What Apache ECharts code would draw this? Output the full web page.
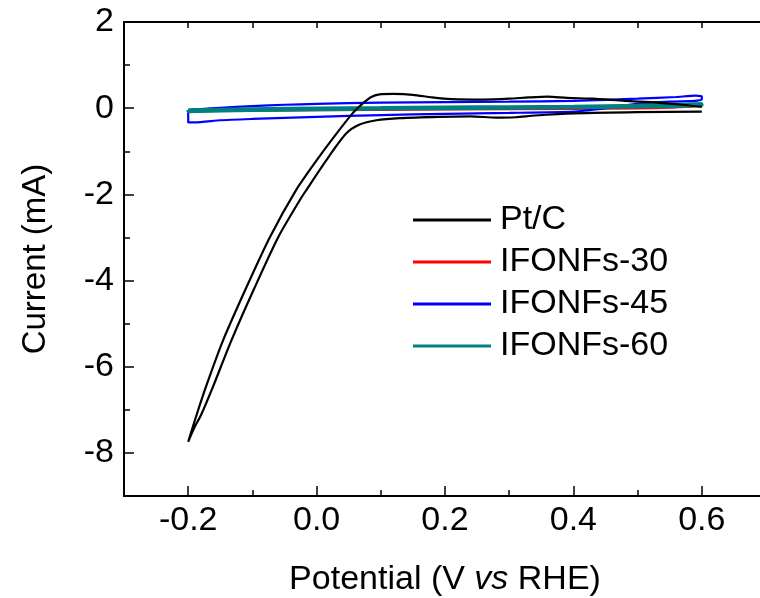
<!DOCTYPE html>
<html>
<head>
<meta charset="utf-8">
<script src="https://cdn.jsdelivr.net/npm/echarts@6/dist/echarts.min.js"></script>
<style>
html,body{margin:0;padding:0;background:#fff;}
#chart{width:760px;height:598px;}
</style>
</head>
<body>
<div id="chart"></div>
<script>
// ---- data ----
var seriesNames = ['Pt/C', 'IFONFs-30', 'IFONFs-45', 'IFONFs-60'];
var seriesColors = ['#000000', '#ff0000', '#0000ff', '#008080'];

var ptcX = [0.600, 0.570, 0.530, 0.480, 0.430, 0.390, 0.360, 0.330, 0.300, 0.260, 0.210, 0.180, 0.150, 0.120, 0.098, 0.085, 0.072, 0.056, 0.031, 0.000, -0.032, -0.073, -0.110, -0.146, -0.172, -0.187, -0.200,
            -0.190, -0.180, -0.161, -0.133, -0.097, -0.060, -0.026, -0.016, 0.015, 0.046, 0.067, 0.093, 0.130, 0.190, 0.240, 0.280, 0.310, 0.340, 0.400, 0.500, 0.600];
var ptcY = [0.03, 0.08, 0.13, 0.17, 0.22, 0.24, 0.27, 0.25, 0.22, 0.20, 0.21, 0.25, 0.31, 0.33, 0.32, 0.26, 0.11, -0.12, -0.59, -1.21, -1.90, -3.00, -4.18, -5.40, -6.45, -7.12, -7.74,
            -7.40, -7.12, -6.45, -5.40, -4.18, -3.00, -2.13, -1.90, -1.21, -0.59, -0.38, -0.28, -0.23, -0.20, -0.19, -0.22, -0.21, -0.17, -0.12, -0.09, -0.08];

var ifo30X = [-0.200, -0.100, 0.000, 0.100, 0.200, 0.300, 0.400, 0.500, 0.600, 0.600, 0.550, 0.500, 0.400, 0.200, 0.000, -0.200, -0.200];
var ifo30Y = [-0.05, -0.03, -0.01, 0.00, 0.01, 0.02, 0.03, 0.05, 0.07, 0.05, 0.01, -0.01, -0.02, -0.03, -0.05, -0.07, -0.05];

var ifo45X = [-0.200, -0.195, -0.180, -0.150, -0.100, -0.050, 0.000, 0.100, 0.200, 0.300, 0.400, 0.500, 0.560, 0.590, 0.600, 0.600, 0.590, 0.550, 0.500, 0.450, 0.400, 0.300, 0.200, 0.100, 0.000, -0.100, -0.150, -0.190, -0.200, -0.200];
var ifo45Y = [-0.08, -0.03, -0.02, 0.01, 0.05, 0.08, 0.10, 0.13, 0.14, 0.15, 0.17, 0.22, 0.26, 0.29, 0.27, 0.20, 0.17, 0.15, 0.10, 0.00, -0.08, -0.11, -0.13, -0.16, -0.20, -0.25, -0.28, -0.33, -0.33, -0.08];

var ifo60X = [-0.200, -0.100, 0.000, 0.100, 0.200, 0.300, 0.400, 0.500, 0.600, 0.600, 0.500, 0.400, 0.300, 0.200, 0.100, 0.000, -0.100, -0.200, -0.200];
var ifo60Y = [-0.045, -0.020, 0.000, 0.010, 0.020, 0.030, 0.040, 0.060, 0.100, 0.070, 0.035, 0.015, 0.005, -0.005, -0.015, -0.030, -0.050, -0.075, -0.045];

var xMajorTicks = [-0.2, 0.0, 0.2, 0.4, 0.6];
var xMinorTicks = [-0.1, 0.1, 0.3, 0.5];
var xTopTicks = [-0.2, -0.1, 0.0, 0.1, 0.2, 0.3, 0.4, 0.5, 0.6];
var yMajorTicks = [-8, -6, -4, -2, 0, 2];
var yMinorTicks = [-9, -7, -5, -3, -1, 1];

function pairs(xs, ys) {
  var out = [];
  for (var i = 0; i < xs.length; i++) out.push([xs[i], ys[i]]);
  return out;
}

var FONT = 'Liberation Sans, Arial, Helvetica, sans-serif';
var chart = echarts.init(document.getElementById('chart'), null, {renderer: 'canvas'});

var xCommon = {type: 'value', min: -0.3, max: 0.7, splitLine: {show: false}};
var yCommon = {type: 'value', min: -9, max: 2, splitLine: {show: false}};

var option = {
  backgroundColor: '#ffffff',
  animation: false,
  grid: {left: 124, top: 22, width: 642, height: 474, containLabel: false, outerBoundsMode: 'none'},
  xAxis: [
    Object.assign({}, xCommon, {
      position: 'bottom',
      name: '{n|Potential (V }{i|vs}{n| RHE)}',
      nameLocation: 'middle',
      nameGap: 67,
      nameTextStyle: {rich: {
        n: {fontFamily: FONT, fontSize: 34, color: '#000'},
        i: {fontFamily: FONT, fontSize: 34, color: '#000', fontStyle: 'italic'}
      }},
      axisLine: {show: true, onZero: false, lineStyle: {color: '#000', width: 2}},
      axisTick: {show: true, inside: true, length: 10, lineStyle: {color: '#000', width: 1.5}, customValues: xMajorTicks},
      axisLabel: {show: true, margin: 8, color: '#000', fontFamily: FONT, fontSize: 34, customValues: xMajorTicks,
        formatter: function (v) { return (Math.abs(v) < 1e-9 ? 0 : v).toFixed(1); }}
    }),
    Object.assign({}, xCommon, {
      position: 'bottom',
      axisLine: {show: false, onZero: false},
      axisTick: {show: true, inside: true, length: 6, lineStyle: {color: '#000', width: 1.5}, customValues: xMinorTicks},
      axisLabel: {show: false}
    }),
    Object.assign({}, xCommon, {
      position: 'top',
      axisLine: {show: true, onZero: false, lineStyle: {color: '#000', width: 2}},
      axisTick: {show: true, inside: true, length: 6, lineStyle: {color: '#000', width: 1.5}, customValues: xTopTicks},
      axisLabel: {show: false}
    })
  ],
  yAxis: [
    Object.assign({}, yCommon, {
      position: 'left',
      name: 'Current (mA)',
      nameLocation: 'middle',
      nameGap: 72,
      nameTextStyle: {fontFamily: FONT, fontSize: 33, color: '#000'},
      axisLine: {show: true, onZero: false, lineStyle: {color: '#000', width: 2}},
      axisTick: {show: true, inside: true, length: 10, lineStyle: {color: '#000', width: 1.5}, customValues: yMajorTicks},
      axisLabel: {show: true, margin: 10, color: '#000', fontFamily: FONT, fontSize: 34, customValues: yMajorTicks}
    }),
    Object.assign({}, yCommon, {
      position: 'left',
      axisLine: {show: false, onZero: false},
      axisTick: {show: true, inside: true, length: 6, lineStyle: {color: '#000', width: 1.5}, customValues: yMinorTicks},
      axisLabel: {show: false}
    })
  ],
  legend: {
    orient: 'vertical',
    left: 413,
    top: 203,
    padding: 0,
    itemWidth: 78,
    itemHeight: 3,
    itemGap: 8,
    icon: 'rect',
    data: seriesNames,
    textStyle: {fontFamily: FONT, fontSize: 34, color: '#000', lineHeight: 34, padding: [0, 0, 0, 4]}
  },
  series: [
    {name: seriesNames[0], type: 'line', data: pairs(ptcX, ptcY), color: seriesColors[0], symbol: 'none', smooth: 0.25, z: 5,
      lineStyle: {width: 2.2, color: seriesColors[0]}},
    {name: seriesNames[1], type: 'line', data: pairs(ifo30X, ifo30Y), color: seriesColors[1], symbol: 'none', smooth: 0.2, z: 2,
      lineStyle: {width: 2, color: seriesColors[1]}},
    {name: seriesNames[2], type: 'line', data: pairs(ifo45X, ifo45Y), color: seriesColors[2], symbol: 'none', smooth: 0.2, z: 3,
      lineStyle: {width: 2.2, color: seriesColors[2]}},
    {name: seriesNames[3], type: 'line', data: pairs(ifo60X, ifo60Y), color: seriesColors[3], symbol: 'none', smooth: 0.2, z: 4,
      lineStyle: {width: 3.5, color: seriesColors[3]}}
  ]
};
chart.setOption(option);
</script>
</body>
</html>
